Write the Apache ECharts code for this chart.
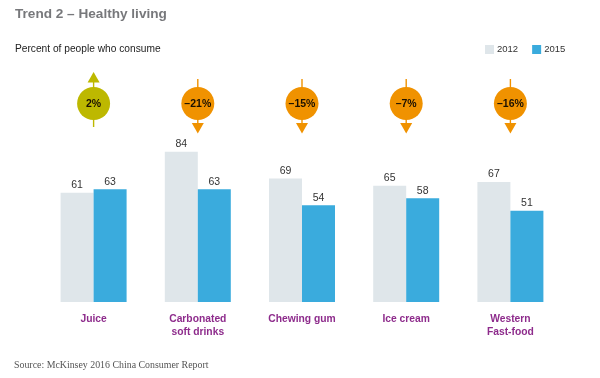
<!DOCTYPE html>
<html><head><meta charset="utf-8">
<style>html,body{margin:0;padding:0;background:#fff}#c{width:600px;height:378px;filter:blur(0.4px)}</style>
<script src="https://cdn.jsdelivr.net/npm/echarts@6/dist/echarts.min.js"></script>
</head><body><div id="c"></div>
<script>
const categories = ['Juice','Carbonated\nsoft drinks','Chewing gum','Ice cream','Western\nFast-food'];
const values2012 = [61,84,69,65,67];
const values2015 = [63,63,54,58,51];
const changes = [2,-21,-15,-7,-16];
const colorUp = '#bdb800', colorDown = '#f09200';
const fmt = v => (v < 0 ? '\u2013' + Math.abs(v) : v) + '%';
const chart = echarts.init(document.getElementById('c'), null, {renderer:'canvas'});
chart.setOption({
  animation:false,
  title:[
    {text:'Trend 2 \u2013 Healthy living',left:10,top:2,textStyle:{fontFamily:'Liberation Sans',fontSize:13.6,fontWeight:'bold',color:'#77787b'}},
    {text:'Percent of people who consume',left:10,top:39,textStyle:{fontFamily:'Liberation Sans',fontSize:10.2,fontWeight:'normal',color:'#222'}},
    {text:'Source: McKinsey 2016 China Consumer Report',left:9,top:355.5,textStyle:{fontFamily:'Liberation Serif',fontSize:9.9,fontWeight:'normal',color:'#555'}}
  ],
  legend:{data:['2012','2015'],left:480,top:39.5,itemWidth:9,itemHeight:9,itemGap:14,icon:'rect',
    textStyle:{fontFamily:'Liberation Sans',fontSize:9.5,color:'#333',padding:[0,0,0,-2]}},
  grid:{left:41.5,width:521,top:15.6,height:286.4},
  xAxis:{type:'category',data:categories,axisLine:{show:false},axisTick:{show:false},
    axisLabel:{interval:0,margin:10,lineHeight:13.5,fontFamily:'Liberation Sans',fontSize:10.3,fontWeight:'bold',color:'#8e2c8c'}},
  yAxis:{type:'value',min:0,max:160,show:false,splitLine:{show:false}},
  series:[
    {name:'2012',type:'bar',data:values2012,barWidth:33,barGap:'0%',itemStyle:{color:'#dfe6ea'},
     label:{show:true,position:'top',distance:2,fontFamily:'Liberation Sans',fontSize:10.5,color:'#333'}},
    {name:'2015',type:'bar',data:values2015,barWidth:33,itemStyle:{color:'#3aabdd'},
     label:{show:true,position:'top',distance:2,fontFamily:'Liberation Sans',fontSize:10.5,color:'#333'}},
    {type:'custom',silent:true,data:changes.map((v,i)=>[i,v]),encode:{x:0},clip:false,
     renderItem(params,api){
       const cx = api.coord([api.value(0),0])[0];
       const v = api.value(1), c = v>=0?colorUp:colorDown, cy = 103.5;
       const stem = v>=0 ? [cx,82,cx,127] : [cx,79,cx,124];
       const tri = v>=0 ? [[cx,72],[cx+6,82.5],[cx-6,82.5]] : [[cx,133.5],[cx+6,123],[cx-6,123]];
       return {type:'group',children:[
         {type:'line',shape:{x1:stem[0],y1:stem[1],x2:stem[2],y2:stem[3]},style:{stroke:c,lineWidth:1.4}},
         {type:'polygon',shape:{points:tri},style:{fill:c}},
         {type:'circle',shape:{cx:cx,cy:cy,r:16.5},style:{fill:c}},
         {type:'text',style:{x:cx,y:cy+1,text:fmt(v),align:'center',verticalAlign:'middle',
           font:'bold 10.5px "Liberation Sans"',fill:'#1a1000'}}
       ]};
     }}
  ]
});
</script></body></html>
